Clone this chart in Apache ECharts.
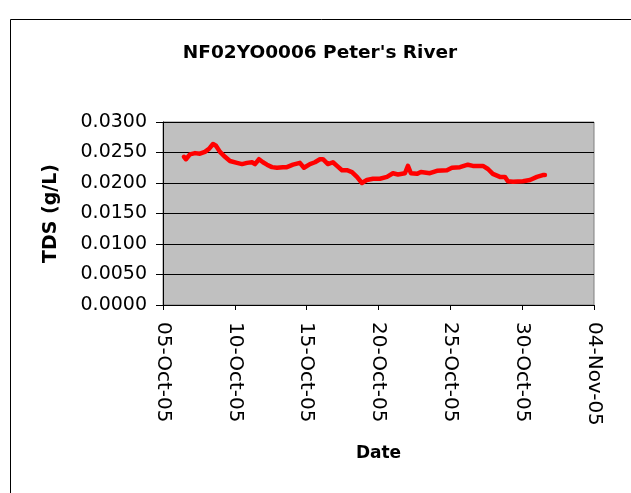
<!DOCTYPE html>
<html>
<head>
<meta charset="utf-8">
<script src="https://cdn.jsdelivr.net/npm/echarts@6/dist/echarts.min.js"></script>
<style>
  html, body { margin: 0; padding: 0; background: #fff; }
  #chart { width: 631px; height: 493px; }
</style>
</head>
<body>
<div id="chart"></div>
<script>
// sample times (local) and TDS readings in g/L
const times = [
  '2005-10-06T11:00', '2005-10-06T14:20', '2005-10-06T21:00', '2005-10-07T05:30',
  '2005-10-07T13:40', '2005-10-07T22:00', '2005-10-08T04:50', '2005-10-08T11:30',
  '2005-10-08T16:30', '2005-10-08T23:10', '2005-10-09T07:30', '2005-10-09T15:50',
  '2005-10-10T03:30', '2005-10-10T12:00', '2005-10-10T20:20', '2005-10-11T04:40',
  '2005-10-11T09:40', '2005-10-11T16:20', '2005-10-11T23:00', '2005-10-12T05:40',
  '2005-10-12T14:00', '2005-10-12T22:20', '2005-10-13T08:20', '2005-10-13T15:00',
  '2005-10-14T01:10', '2005-10-14T12:40', '2005-10-14T19:30', '2005-10-15T05:30',
  '2005-10-15T13:50', '2005-10-15T22:10', '2005-10-16T03:10', '2005-10-16T11:30',
  '2005-10-16T19:50', '2005-10-17T02:40', '2005-10-17T11:00', '2005-10-17T19:20',
  '2005-10-18T03:40', '2005-10-18T12:00', '2005-10-18T20:20', '2005-10-19T04:40',
  '2005-10-19T14:40', '2005-10-20T02:20', '2005-10-20T14:10', '2005-10-21T00:10',
  '2005-10-21T08:30', '2005-10-21T11:50', '2005-10-21T20:10', '2005-10-22T01:10',
  '2005-10-22T06:10', '2005-10-22T16:20', '2005-10-22T22:50', '2005-10-23T02:10',
  '2005-10-23T13:50', '2005-10-24T01:40', '2005-10-24T18:20', '2005-10-25T02:40',
  '2005-10-25T16:00', '2005-10-26T05:20', '2005-10-26T13:40', '2005-10-27T06:30',
  '2005-10-27T14:50', '2005-10-27T23:00', '2005-10-28T10:50', '2005-10-28T19:10',
  '2005-10-29T00:10', '2005-10-29T08:40', '2005-10-30T01:10', '2005-10-30T13:00',
  '2005-10-31T00:40', '2005-10-31T10:30', '2005-10-31T14:00'
]
const tds = [
  0.0243, 0.0239, 0.0247, 0.0249,
  0.0248, 0.0251, 0.0256, 0.0264,
  0.0261, 0.0251, 0.0243, 0.0236,
  0.0233, 0.0231, 0.0233, 0.0234,
  0.0231, 0.0239, 0.0234, 0.0230,
  0.0226, 0.0225, 0.0226, 0.0226,
  0.0230, 0.0233, 0.0225, 0.0231,
  0.0234, 0.0239, 0.0239, 0.0231,
  0.0234, 0.0228, 0.0221, 0.0221,
  0.0218, 0.0210, 0.0200, 0.0205,
  0.0207, 0.0207, 0.0210, 0.0216,
  0.0214, 0.0213, 0.0216, 0.0228,
  0.0216, 0.0215, 0.0218, 0.0215,
  0.0216, 0.0220, 0.0221, 0.0225,
  0.0226, 0.0230, 0.0228, 0.0228,
  0.0223, 0.0215, 0.0210, 0.0210,
  0.0203, 0.0202, 0.0203, 0.0205,
  0.0210, 0.0213, 0.0213
]
// x axis runs in days from 05-Oct-05, ticks every 5 days
const startDate = new Date(2005, 9, 5)
const axisDays = [0, 30]
const tickStep = 5
const yTicks = [0, 0.03, 0.005]
const months = ['Jan', 'Feb', 'Mar', 'Apr', 'May', 'Jun', 'Jul', 'Aug', 'Sep', 'Oct', 'Nov', 'Dec']

const DAY = 86400000
const seriesData = times.map((t, i) => [(new Date(t).getTime() - startDate.getTime()) / DAY, tds[i]])

const pad = n => (n < 10 ? '0' : '') + n
const fmtDay = v => {
  const d = new Date(startDate.getTime() + Math.round(v) * DAY)
  return pad(d.getDate()) + '-' + months[d.getMonth()] + '-' + pad(d.getFullYear() % 100)
}

const font = '"DejaVu Sans", sans-serif'
const chart = echarts.init(document.getElementById('chart'))

chart.setOption({
  backgroundColor: '#ffffff',
  animation: false,
  title: {
    text: "NF02YO0006 Peter's River",
    left: 315,
    top: 39,
    textAlign: 'center',
    textStyle: { fontFamily: font, fontSize: 18.5, fontWeight: 'bold', color: '#000' }
  },
  graphic: [{
    type: 'rect',
    shape: { x: 10.5, y: 19.5, width: 1000, height: 1000 },
    style: { fill: 'none', stroke: '#000', lineWidth: 1 },
    silent: true
  }],
  grid: {
    left: 163,
    right: 37,
    top: 122,
    bottom: 188,
    show: true,
    backgroundColor: '#C0C0C0',
    borderColor: '#808080',
    borderWidth: 1
  },
  xAxis: {
    type: 'value',
    min: axisDays[0],
    max: axisDays[1],
    interval: tickStep,
    name: 'Date',
    nameLocation: 'middle',
    nameGap: 140,
    nameTextStyle: { fontFamily: font, fontSize: 17, fontWeight: 'bold', color: '#000' },
    axisLine: { show: true, lineStyle: { color: '#000', width: 1 } },
    axisTick: { show: true, inside: false, length: 5, lineStyle: { color: '#000' } },
    splitLine: { show: false },
    axisLabel: {
      rotate: -90,
      margin: 17,
      fontFamily: font,
      fontSize: 20,
      color: '#000',
      formatter: fmtDay
    }
  },
  yAxis: {
    type: 'value',
    min: yTicks[0],
    max: yTicks[1],
    interval: yTicks[2],
    name: 'TDS (g/L)',
    nameLocation: 'middle',
    nameGap: 102,
    nameTextStyle: { fontFamily: font, fontSize: 19, fontWeight: 'bold', color: '#000' },
    axisLine: { show: true, lineStyle: { color: '#000', width: 1 } },
    axisTick: { show: true, inside: false, length: 7, lineStyle: { color: '#000' } },
    splitLine: { show: true, lineStyle: { color: '#000', width: 1 } },
    axisLabel: {
      margin: 16,
      fontFamily: font,
      fontSize: 19,
      color: '#000',
      formatter: v => v.toFixed(4)
    }
  },
  series: [{
    type: 'line',
    data: seriesData,
    showSymbol: false,
    symbol: 'none',
    lineStyle: { color: '#FF0000', width: 4.5, join: 'round', cap: 'round' },
    z: 5
  }]
})
</script>
</body>
</html>
